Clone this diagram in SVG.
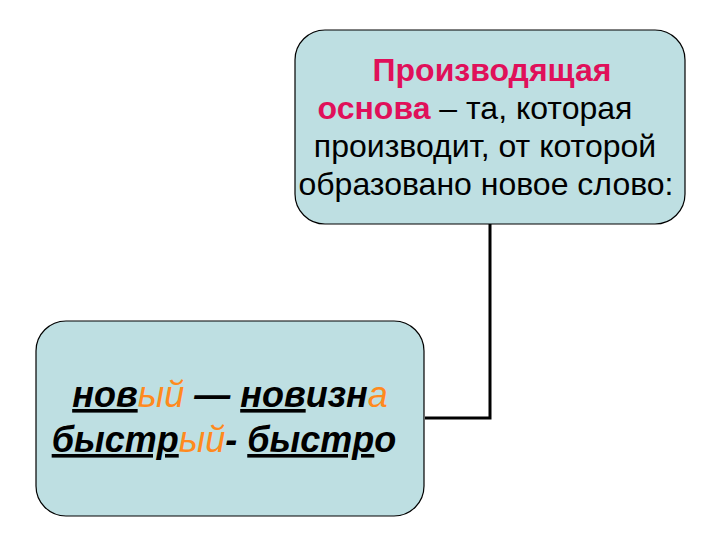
<svg xmlns="http://www.w3.org/2000/svg" width="720" height="540" viewBox="0 0 720 540">
<style>
.box{fill:#BEDFE2;stroke:#000;stroke-width:1.2}
.t{font-family:"Liberation Sans",Arial,sans-serif;font-size:32px;fill:#000}
.pk{fill:#E0105A;font-weight:bold}
.b{font-family:"Liberation Sans",Arial,sans-serif;font-size:36px;font-weight:bold;font-style:italic;fill:#000}
.or{fill:#FF8A1E;font-weight:normal}
.u{text-decoration:underline}
.conn{fill:none;stroke:#000;stroke-width:3}
</style>
<rect width="720" height="540" fill="#fff"/>
<g id="connectors">
<path class="conn" d="M490 224 V418 H425"/>
</g>
<g id="top">
<rect class="box" x="295" y="30" width="390" height="194" rx="30"/>
<text class="t" text-anchor="middle" x="492" y="81"><tspan class="pk">Производящая</tspan></text>
<text class="t" text-anchor="middle" x="475" y="119"><tspan class="pk">основа</tspan> – та, которая</text>
<text class="t" text-anchor="middle" x="485" y="157">производит, от которой</text>
<text class="t" text-anchor="middle" x="486" y="195">образовано новое слово:</text>
</g>
<g id="bottom">
<rect class="box" x="36" y="321" width="388" height="195" rx="30"/>
<text class="b" text-anchor="middle" x="230" y="407"><tspan class="u">нов</tspan><tspan class="or">ый</tspan> — <tspan class="u">нов</tspan>изн<tspan class="or">а</tspan></text>
<text class="b" text-anchor="middle" x="224" y="452"><tspan class="u">быстр</tspan><tspan class="or">ый</tspan>- <tspan class="u">быстр</tspan>о</text>
</g>
</svg>
